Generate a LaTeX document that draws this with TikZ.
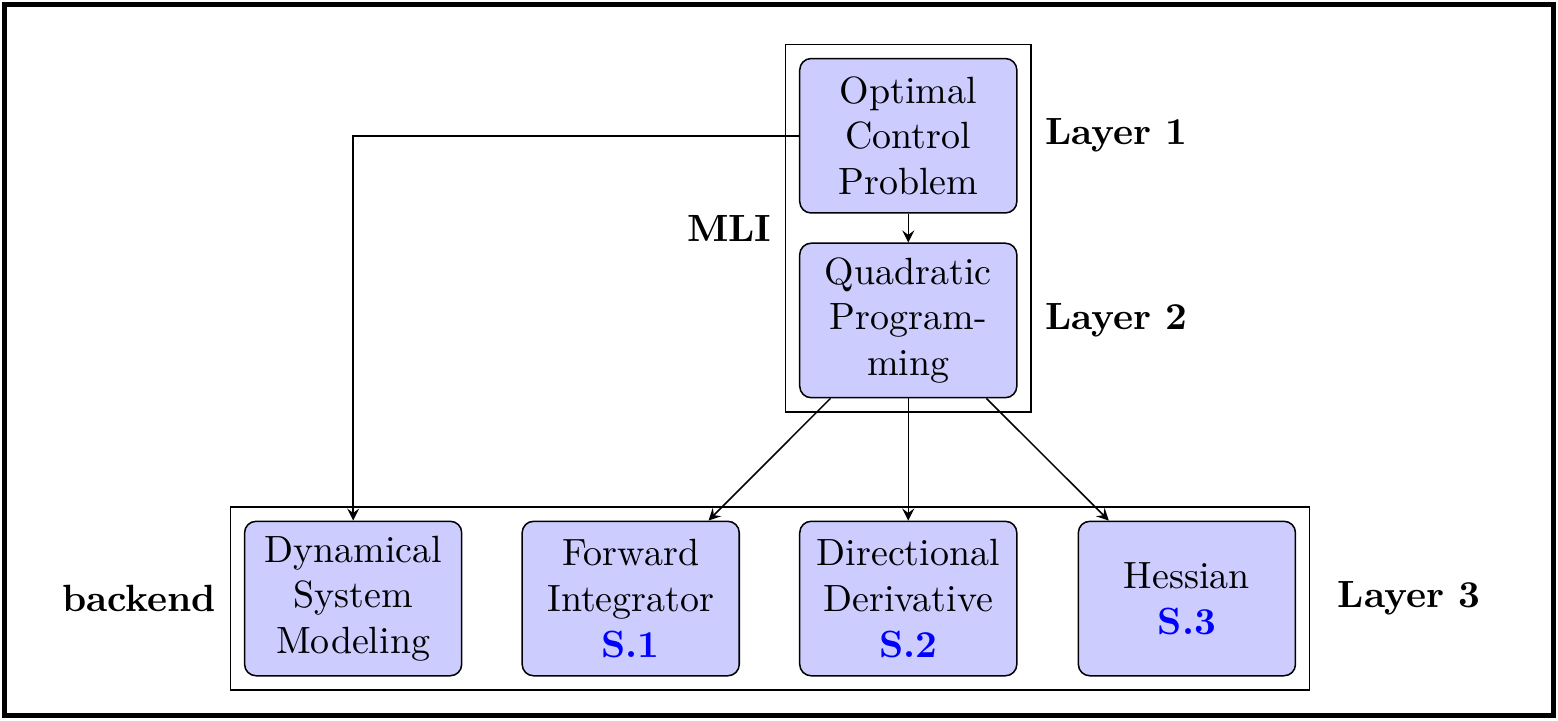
\documentclass[tikz,border=0pt]{standalone}
\usetikzlibrary{fit}
\tikzset{
  block/.style={draw, fill=blue!20, rounded corners=3pt, align=center,
    minimum width=2.01cm, minimum height=1.43cm},
  frame/.style={draw, inner sep=0.125cm},
  layer/.style={font=\bfseries},
}
\newcommand{\stage}[1]{\textcolor{blue}{\textbf{#1}}}
\begin{document}
\begin{tikzpicture}[>=stealth]
	\useasboundingbox (0,0) rectangle (14.426,6.667);
	\draw[line width=1.3pt] (0.042,0.042) rectangle (14.384,6.625);
	% top layers
	\node[block] (ocp) at (8.41,5.41) {Optimal\\Control\\Problem};
	\node[block] (qp) at (8.41,3.70) {Quadratic\\Program-\\ming};
	% backend
	\node[block] (dyn) at (3.27,1.125) {Dynamical\\System\\Modeling};
	\node[block] (fwd) at (5.84,1.125) {Forward\\Integrator\\\stage{S.1}};
	\node[block] (dir) at (8.41,1.125) {Directional\\Derivative\\\stage{S.2}};
	\node[block] (hes) at (10.99,1.125) {Hessian\\\stage{S.3}};
	\node[frame, fit=(ocp)(qp)] (mli) {};
	\node[frame, fit=(dyn)(hes)] (back) {};
	\node[layer, left] at (mli.west) {MLI};
	\node[layer, left] at (back.west) {backend};
	\node[layer, right] at (mli.east |- ocp) {Layer 1};
	\node[layer, right] at (mli.east |- qp) {Layer 2};
	\node[layer, right, xshift=0.13cm] at (back.east) {Layer 3};
	\draw[->] (ocp) -- (qp);
	\draw[->] (ocp.west) -| (dyn.north);
	\draw[->] (qp) -- (fwd);
	\draw[->] (qp) -- (dir);
	\draw[->] (qp) -- (hes);
\end{tikzpicture}
\end{document}
